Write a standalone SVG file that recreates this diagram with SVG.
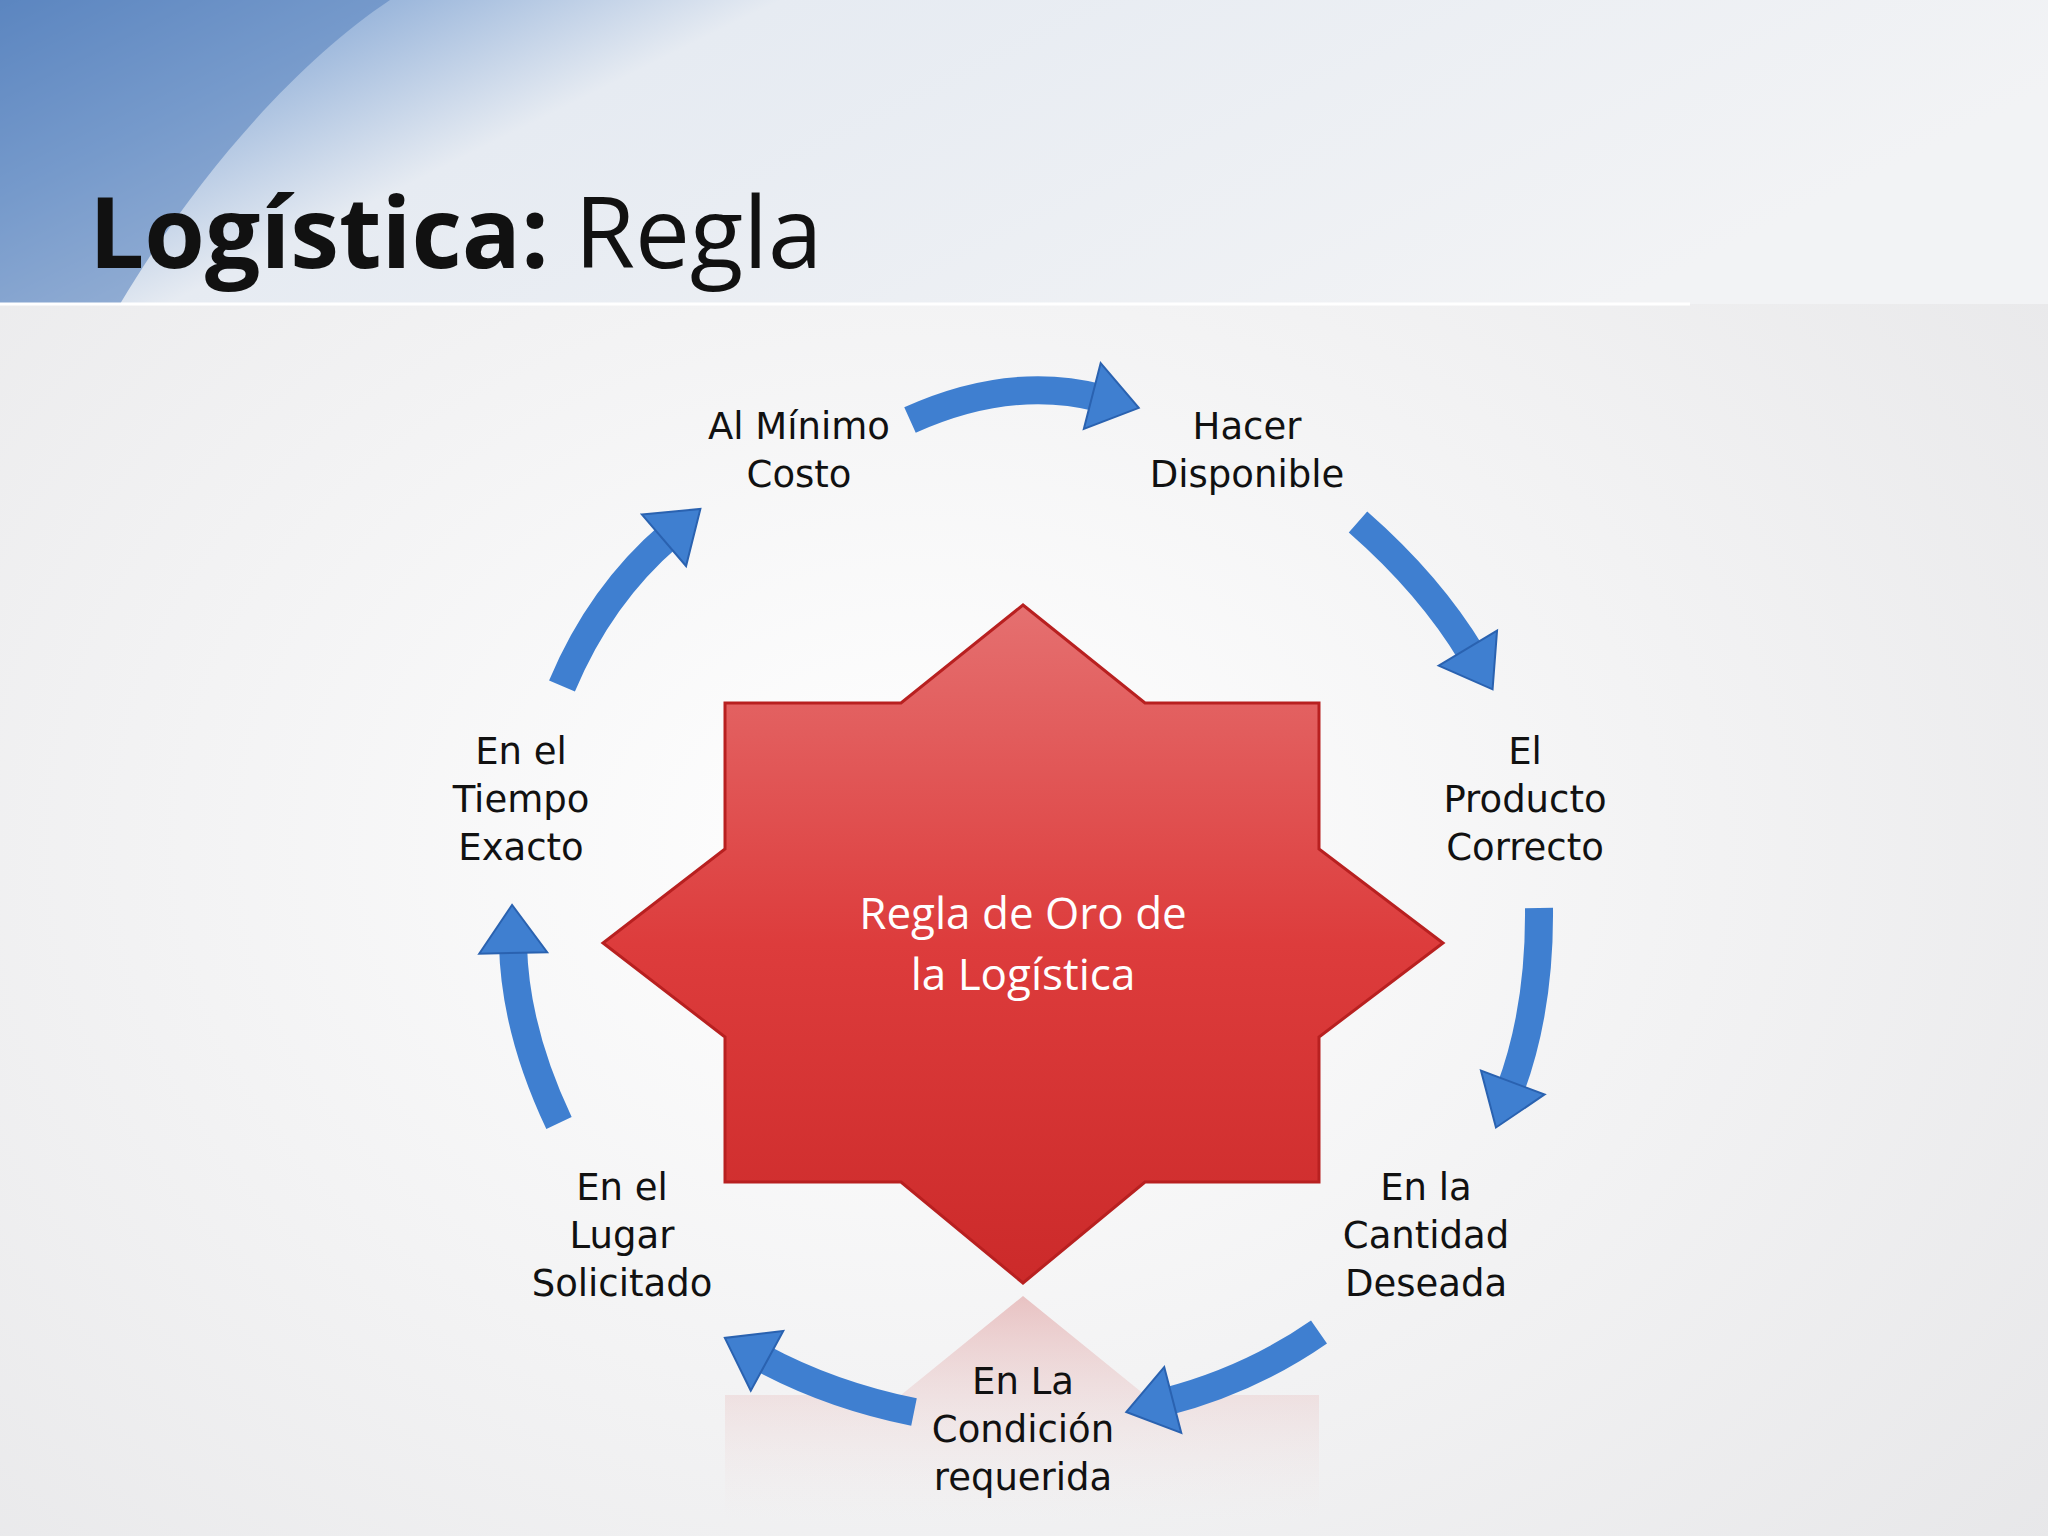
<svg xmlns="http://www.w3.org/2000/svg" width="2048" height="1536" viewBox="0 0 2048 1536">
<defs>
<radialGradient id="bg" cx="0.45" cy="0.55" r="0.75"><stop offset="0" stop-color="#ffffff"/><stop offset="1" stop-color="#e6e6e8"/></radialGradient>
<linearGradient id="hdr" x1="0" y1="0" x2="1" y2="0.3"><stop offset="0" stop-color="#5b86c0"/><stop offset="0.18" stop-color="#9db8dc"/><stop offset="0.35" stop-color="#e6ebf2"/><stop offset="1" stop-color="#f2f3f5"/></linearGradient>
<linearGradient id="star" x1="0" y1="0" x2="0" y2="1"><stop offset="0" stop-color="#e57070"/><stop offset="0.5" stop-color="#dd3c3c"/><stop offset="1" stop-color="#cc2a2a"/></linearGradient>
<linearGradient id="refl" x1="0" y1="0" x2="0" y2="1"><stop offset="0" stop-color="#e0a0a0" stop-opacity="0.6"/><stop offset="1" stop-color="#f0e0e0" stop-opacity="0"/></linearGradient>
<marker id="ah" markerUnits="userSpaceOnUse" markerWidth="70" markerHeight="80" viewBox="0 -40 55 80" refX="8" refY="0" orient="auto"><path d="M0,-34 L48,0 L0,34 Z" fill="#3f7fd0" stroke="#2a62b0" stroke-width="2"/></marker>
<style>
.lbl{font-family:"DejaVu Sans",Verdana,sans-serif;font-size:37px;fill:#111;text-anchor:middle}
.arr{fill:none;stroke:#3f7fd0;stroke-width:28;marker-end:url(#ah)}
</style>
</defs>
<rect width="2048" height="1536" fill="url(#bg)"/>
<rect width="2048" height="304" fill="url(#hdr)"/>
<path d="M0,0 L390,0 C300,60 200,170 120,304 L0,304 Z" fill="#5b86c0" opacity="0.6"/>
<line x1="0" y1="304" x2="1690" y2="304" stroke="#ffffff" stroke-width="3"/>
<text x="89" y="268" font-family="Open Sans, 'DejaVu Sans', sans-serif" font-size="98" fill="#111"><tspan font-weight="bold">Logística:</tspan> Regla</text>
<polygon points="1023,1296 901,1395 725,1395 725,1520 1319,1520 1319,1395 1145,1395" fill="url(#refl)"/>
<g id="star-node">
<polygon points="1023,605 1145,703 1319,703 1319,849 1443,943 1319,1037 1319,1182 1145,1182 1023,1283 901,1182 725,1182 725,1037 603,943 725,849 725,703 901,703" fill="url(#star)" stroke="#b82020" stroke-width="3"/>
<text x="1023" y="929" font-family="Open Sans, sans-serif" font-size="44" fill="#fff" text-anchor="middle">Regla de Oro de</text>
<text x="1023" y="990" font-family="Open Sans, sans-serif" font-size="44" fill="#fff" text-anchor="middle">la Logística</text>
</g>
<g id="connectors">
<path class="arr" d="M910,420 Q1010,375 1100,398"/>
<path class="arr" d="M1358,522 Q1430,585 1472,655"/>
<path class="arr" d="M1539,908 Q1540,1010 1510,1090"/>
<path class="arr" d="M1319,1332 Q1250,1380 1165,1402"/>
<path class="arr" d="M914,1412 Q830,1395 760,1357"/>
<path class="arr" d="M559,1123 Q515,1030 513,945"/>
<path class="arr" d="M562,686 Q600,595 670,535"/>
</g>
<g id="n1"><text class="lbl" x="799" y="439">Al Mínimo</text><text class="lbl" x="799" y="487">Costo</text></g>
<g id="n2"><text class="lbl" x="1247" y="439">Hacer</text><text class="lbl" x="1247" y="487">Disponible</text></g>
<g id="n3"><text class="lbl" x="1525" y="764">El</text><text class="lbl" x="1525" y="812">Producto</text><text class="lbl" x="1525" y="860">Correcto</text></g>
<g id="n4"><text class="lbl" x="1426" y="1200">En la</text><text class="lbl" x="1426" y="1248">Cantidad</text><text class="lbl" x="1426" y="1296">Deseada</text></g>
<g id="n5"><text class="lbl" x="1023" y="1394">En La</text><text class="lbl" x="1023" y="1442">Condición</text><text class="lbl" x="1023" y="1490">requerida</text></g>
<g id="n6"><text class="lbl" x="622" y="1200">En el</text><text class="lbl" x="622" y="1248">Lugar</text><text class="lbl" x="622" y="1296">Solicitado</text></g>
<g id="n7"><text class="lbl" x="521" y="764">En el</text><text class="lbl" x="521" y="812">Tiempo</text><text class="lbl" x="521" y="860">Exacto</text></g>
</svg>
